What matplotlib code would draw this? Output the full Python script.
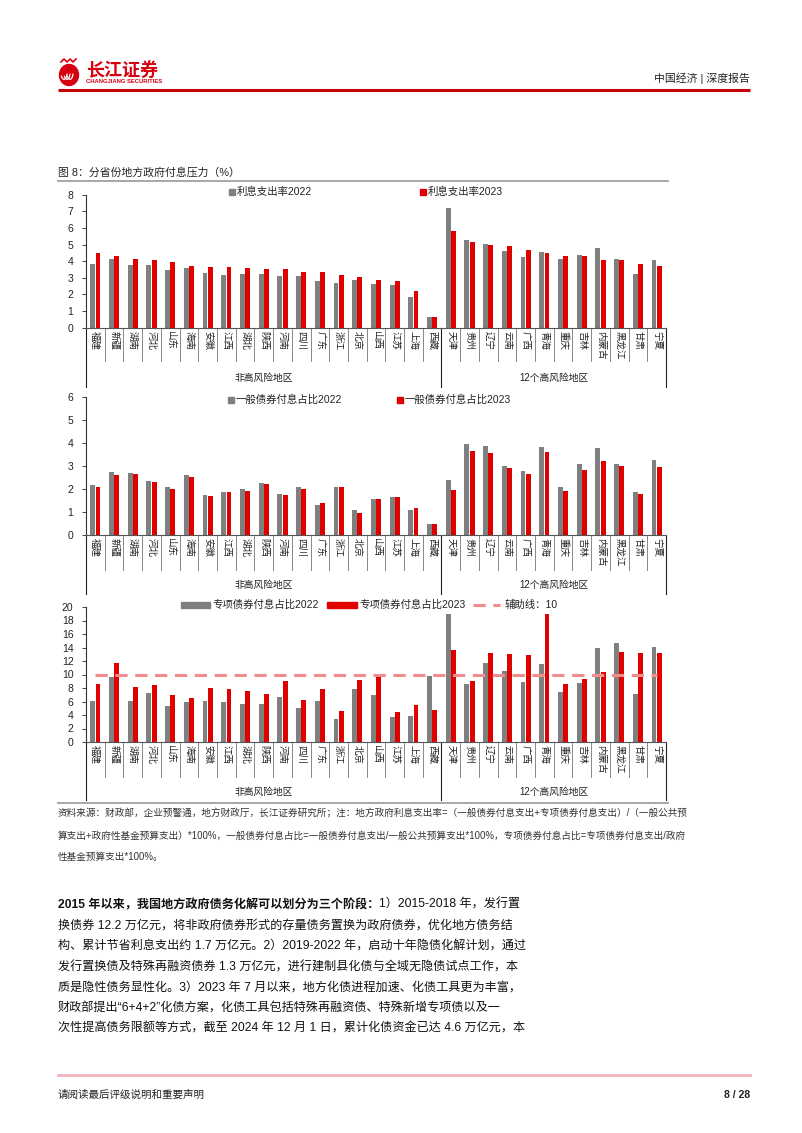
import matplotlib
matplotlib.use('Agg')
import matplotlib.pyplot as plt
import matplotlib.transforms as mtransforms
from matplotlib.patches import Rectangle, Ellipse
import numpy as np

plt.rcParams['font.family'] = ['Liberation Sans', 'Noto Sans CJK SC', 'DejaVu Sans']

# ---- data ----
names_low = ['福建', '新疆', '湖南', '河北', '山东', '海南', '安徽', '江西', '湖北', '陕西',
             '河南', '四川', '广东', '浙江', '北京', '山西', '江苏', '上海', '西藏']
names_high = ['天津', '贵州', '辽宁', '云南', '广西', '青海', '重庆', '吉林', '内蒙古', '黑龙江',
              '甘肃', '宁夏']
names = names_low + names_high

rate_2022 = [3.81, 4.11, 3.79, 3.77, 3.45, 3.57, 3.29, 3.15, 3.23, 3.25, 3.09, 3.11, 2.79, 2.67,
             2.85, 2.63, 2.55, 1.84, 0.66,
             7.17, 5.25, 5.03, 4.59, 4.25, 4.55, 4.11, 4.39, 4.81, 4.13, 3.21, 4.09]
rate_2023 = [4.51, 4.31, 4.15, 4.07, 3.93, 3.69, 3.65, 3.63, 3.59, 3.51, 3.51, 3.37, 3.33, 3.15,
             3.05, 2.85, 2.79, 2.18, 0.62,
             5.83, 5.13, 4.99, 4.91, 4.65, 4.49, 4.31, 4.29, 4.07, 4.07, 3.83, 3.69]

general_2022 = [2.17, 2.72, 2.71, 2.35, 2.09, 2.61, 1.74, 1.88, 2.00, 2.25, 1.78, 2.09, 1.30, 2.07,
                1.09, 1.58, 1.67, 1.07, 0.46,
                2.41, 3.94, 3.87, 2.99, 2.78, 3.84, 2.10, 3.09, 3.80, 3.09, 1.88, 3.28]
general_2023 = [2.09, 2.61, 2.65, 2.32, 2.00, 2.52, 1.68, 1.88, 1.93, 2.22, 1.72, 2.01, 1.38, 2.07,
                0.96, 1.55, 1.67, 1.16, 0.46,
                1.97, 3.65, 3.57, 2.90, 2.64, 3.61, 1.91, 2.83, 3.23, 3.01, 1.78, 2.97]

special_2022 = [6.07, 9.68, 6.07, 7.26, 5.28, 5.93, 6.07, 5.88, 5.63, 5.63, 6.67, 4.99, 6.07, 3.36,
                7.90, 6.96, 3.70, 3.85, 9.78,
                18.9, 8.64, 11.75, 10.57, 8.89, 11.56, 7.46, 8.79, 13.98, 14.62, 7.11, 14.12]
special_2023 = [8.54, 11.70, 8.15, 8.44, 6.96, 6.57, 7.95, 7.85, 7.56, 7.11, 8.99, 6.22, 7.85, 4.59,
                9.23, 9.93, 4.49, 5.48, 4.69,
                13.7, 9.09, 13.19, 12.99, 12.94, 18.96, 8.64, 9.33, 10.32, 13.33, 13.23, 13.19]
guide_value = 10

group_labels = ['非高风险地区', '12个高风险地区']

body_bold = '2015 年以来，我国地方政府债务化解可以划分为三个阶段：'
body_lines = [
    '1）2015-2018 年，发行置',
    '换债券 12.2 万亿元，将非政府债券形式的存量债务置换为政府债券，优化地方债务结',
    '构、累计节省利息支出约 1.7 万亿元。2）2019-2022 年，启动十年隐债化解计划，通过',
    '发行置换债及特殊再融资债券 1.3 万亿元，进行建制县化债与全域无隐债试点工作，本',
    '质是隐性债务显性化。3）2023 年 7 月以来，地方化债进程加速、化债工具更为丰富，',
    '财政部提出“6+4+2”化债方案，化债工具包括特殊再融资债、特殊新增专项债以及一',
    '次性提高债务限额等方式，截至 2024 年 12 月 1 日，累计化债资金已达 4.6 万亿元，本',
]
note_lines = [
    '资料来源：财政部，企业预警通，地方财政厅，长江证券研究所；注：地方政府利息支出率=（一般债券付息支出+专项债券付息支出）/（一般公共预',
    '算支出+政府性基金预算支出）*100%，一般债券付息占比=一般债券付息支出/一般公共预算支出*100%，专项债券付息占比=专项债券付息支出/政府',
    '性基金预算支出*100%。',
]

GRAY = '#7f7f7f'
RED = '#e00000'
W, H = 802, 1133

fig = plt.figure(figsize=(W / 100, H / 100), dpi=100)
page = fig.add_axes([0, 0, 1, 1])
page.set_xlim(0, W)
page.set_ylim(H, 0)
page.axis('off')

# ---- header ----
page.add_patch(Ellipse((69, 75), 19, 21, color='#d7000f'))
for k in range(3):
    t = np.linspace(0.2, 2.6, 30)
    page.plot(64 + k * 3 + 3 * np.cos(t), 73 + 7 * np.sin(t) * 0.9, color='white', lw=0.9)
page.plot([61, 64, 67, 70, 73, 76], [62, 59, 62, 59, 62, 59], color='#d7000f', lw=1.2)
page.text(86, 70, '长江证券', color='#d7000f', fontsize=13, fontweight='bold', va='center',
          family=['Noto Sans CJK SC'])
page.text(86, 81.5, 'CHANGJIANG SECURITIES', color='#d7000f', fontsize=4.2, fontweight='bold',
          va='center')
page.text(750, 78, '中国经济 | 深度报告', fontsize=7.8, ha='right', va='center', color='#222222')
page.plot([58, 750], [89.5, 89.5], color='#c8000a', lw=2.2, solid_capstyle='butt')

# ---- figure title ----
page.text(58, 172, '图 8：分省份地方政府付息压力（%）', fontsize=7.8, va='center', color='#222222')
page.plot([58, 668], [180.5, 180.5], color='#a0a0a0', lw=1.3)


def panel(top, bottom, v22, v23, ymax, ystep, sep_end, grp_y, grp_end):
    ax = fig.add_axes([86 / W, 1 - bottom / H, 580 / W, (bottom - top) / H])
    x = np.arange(len(names))
    ax.bar(x - 0.14, v22, width=0.26, color=GRAY, zorder=2)
    ax.bar(x + 0.14, v23, width=0.26, color=RED, zorder=2)
    ax.set_xlim(-0.5, len(names) - 0.5)
    ax.set_ylim(0, ymax)
    ax.set_yticks(np.arange(0, ymax + 0.01, ystep))
    ax.set_xticks([])
    for s in ['top', 'right']:
        ax.spines[s].set_visible(False)
    ax.spines['left'].set_color('#333333')
    ax.spines['bottom'].set_color('#555555')
    ax.spines['left'].set_linewidth(0.8)
    ax.spines['bottom'].set_linewidth(0.8)
    ax.tick_params(axis='y', direction='out', length=3, width=0.6, labelsize=7.5, pad=6,
                   colors='#222222')
    ax.patch.set_alpha(0)
    tr = mtransforms.blended_transform_factory(ax.transData, page.transData)
    n_low = len(names_low)
    for i in range(len(names) + 1):
        xe = i - 0.5
        if i in (0, n_low, len(names)):
            page.plot([xe, xe], [bottom, grp_end], transform=tr, color='#222222', lw=0.8,
                      clip_on=False)
        else:
            page.plot([xe, xe], [bottom, sep_end], transform=tr, color='#888888', lw=0.7,
                      clip_on=False)
    for i, nm in enumerate(names):
        page.text(i, bottom + 3, nm, transform=tr, rotation=-90, ha='center', va='top',
                  fontsize=6.8, color='#222222', family=['Noto Sans CJK SC'])
    page.text((n_low - 1) / 2, grp_y, group_labels[0], transform=tr, ha='center', va='center',
              fontsize=7, color='#222222')
    page.text(n_low + (len(names_high) - 1) / 2, grp_y, group_labels[1], transform=tr,
              ha='center', va='center', fontsize=7, color='#222222')
    return ax


def legend_item(x0, y, w, color, label):
    page.add_patch(Rectangle((x0, y - 3), w, 6, color=color))
    page.text(x0 + w + 2, y, label, fontsize=7.5, va='center', color='#222222')


ax1 = panel(194.7, 327.7, rate_2022, rate_2023, 8, 1, 361, 378, 387)
legend_item(229, 192, 6, GRAY, '利息支出率2022')
legend_item(420, 192, 6, RED, '利息支出率2023')

ax2 = panel(397, 535, general_2022, general_2023, 6, 1, 570, 585, 594)
legend_item(228, 400, 6, GRAY, '一般债券付息占比2022')
legend_item(397, 400, 6, RED, '一般债券付息占比2023')

ax3 = panel(607, 742, special_2022, special_2023, 20, 2, 777, 792, 800)
ax3.plot(np.arange(len(names)), [guide_value] * len(names), color='#f08c8c', lw=2.2,
         dashes=(4, 2.5), zorder=3)
legend_item(181, 605, 29, GRAY, '专项债券付息占比2022')
legend_item(327, 605, 30, RED, '专项债券付息占比2023')
page.plot([473, 500], [605, 605], color='#f08c8c', lw=2.2, dashes=(4, 2.5))
page.text(505, 605, '辅助线：10', fontsize=7.5, va='center', color='#222222')

page.plot([58, 668], [803, 803], color='#a0a0a0', lw=1.3)

# ---- source note ----
for k, line in enumerate(note_lines):
    page.text(58, 814 + k * 21.5, line, fontsize=6.9, va='center', color='#333333')

# ---- body text ----
bt = page.text(58, 905, body_bold, fontsize=8.7, fontweight='bold', va='center', color='#111111')
page.annotate(body_lines[0], xy=(1, 0.5), xycoords=bt, va='center', ha='left', fontsize=8.7,
              color='#111111')
for k, line in enumerate(body_lines[1:]):
    page.text(58, 926 + k * 20.6, line, fontsize=8.7, va='center', color='#111111')

# ---- footer ----
page.plot([58, 750], [1075, 1075], color='#f2b3bb', lw=2)
page.text(58, 1095, '请阅读最后评级说明和重要声明', fontsize=7.6, va='center', color='#222222')
page.text(750, 1095, '8 / 28', fontsize=7.6, fontweight='bold', ha='right', va='center',
          color='#222222')

fig.savefig('out.png', dpi=100)
